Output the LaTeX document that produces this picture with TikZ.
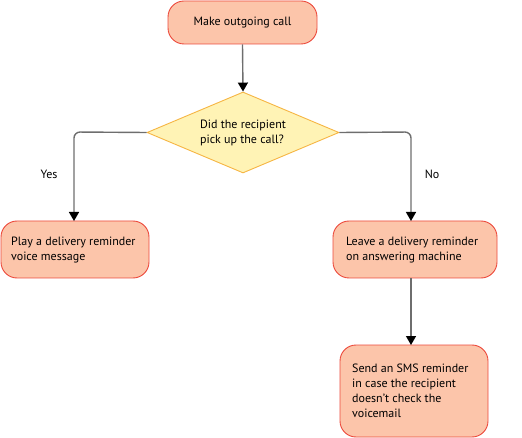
\documentclass[tikz,border=0pt]{standalone}
\usepackage{fontspec}
\setmainfont{PT Sans}
\usetikzlibrary{shapes.geometric,arrows.meta}
\definecolor{boxfill}{HTML}{FCC5AA}
\definecolor{boxdraw}{HTML}{EC4A3C}
\definecolor{dfill}{HTML}{FFF3B5}
\definecolor{ddraw}{HTML}{F6B543}
\definecolor{linecol}{HTML}{6E6E6E}
\tikzset{
  procbox/.style={draw=boxdraw, fill=boxfill, line width=0.9pt, rounded corners=16pt, inner sep=0pt},
  decis/.style={draw=ddraw, fill=dfill, line width=0.9pt, diamond, inner sep=0pt},
  txt/.style={font=\fontsize{12}{15}\selectfont, align=left, anchor=west, inner sep=0pt},
  conn/.style={draw=linecol, line width=1.4pt, rounded corners=6pt, -{Triangle[length=9pt,width=10pt,fill=black,color=black]}},
  lbl/.style={font=\fontsize{12}{15}\selectfont}
}
\begin{document}
\begin{tikzpicture}[x=1pt,y=-1pt]
\useasboundingbox (0,0) rectangle (522,438);
% top box
\node[procbox, minimum width=149pt, minimum height=43pt] (start) at (242.5,22.5) {};
\node[lbl] (starttxt) at (start.center) {Make outgoing call};
% diamond
\node[decis, minimum width=192pt, minimum height=81pt] (dec) at (243,132.5) {};
\node[lbl, align=left] (dectxt) at (dec.center) {Did the recipient\\pick up the call?};
% play box
\node[procbox, minimum width=148pt, minimum height=57pt] (play) at (75,249.5) {};
\node[txt] (playtxt) at (11,250) {Play a delivery reminder\\voice message};
% leave box
\node[procbox, minimum width=164pt, minimum height=57pt] (leave) at (415,249.5) {};
\node[txt] (leavetxt) at (346,250) {Leave a delivery reminder\\on answering machine};
% sms box
\node[procbox, minimum width=148pt, minimum height=92pt] (sms) at (414,391) {};
\node[txt] (smstxt) at (352,390.5) {Send an SMS reminder\\in case the recipient\\doesn’t check the\\voicemail};
% coordinates
\coordinate (lc) at (74,132);
\coordinate (rc) at (411,132);
\coordinate (playtop) at (74,221);
\coordinate (leavetop) at (411,221);
\coordinate (leavebot) at (411,278);
\coordinate (smstop) at (411,345);
% connectors
\draw[conn] (start.south) -- (dec.north);
\draw[conn] (dec.west) -- (lc) -- (playtop);
\draw[conn] (dec.east) -- (rc) -- (leavetop);
\draw[conn] (leavebot) -- (smstop);
% labels
\node[lbl] (yes) at (49,174) {Yes};
\node[lbl] (no) at (432,174) {No};
\end{tikzpicture}
\end{document}
